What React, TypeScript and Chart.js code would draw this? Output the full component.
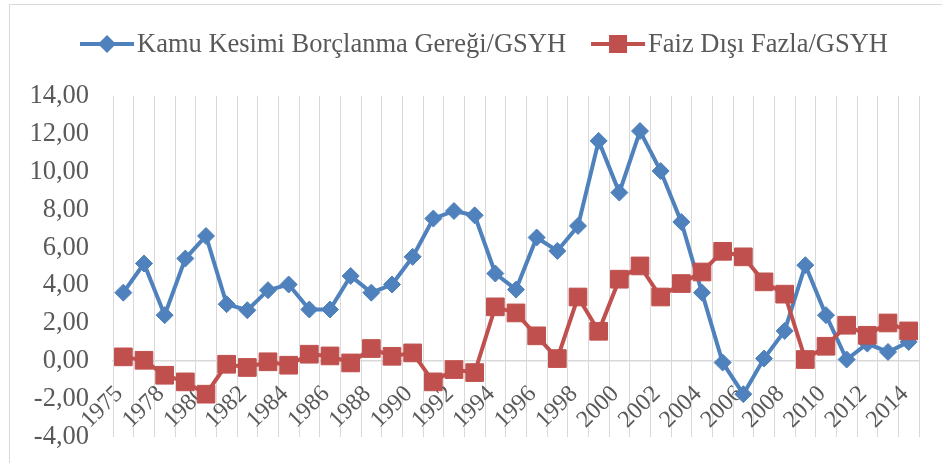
import { useEffect, useRef } from "react";
import { Chart, registerables } from "chart.js";

Chart.register(...registerables);

const years = [
  "1975", "1977", "1978", "1979", "1980", "1981", "1982", "1983", "1984", "1985",
  "1986", "1987", "1988", "1989", "1990", "1991", "1992", "1993", "1994", "1995",
  "1996", "1997", "1998", "1999", "2000", "2001", "2002", "2003", "2004", "2005",
  "2006", "2007", "2008", "2009", "2010", "2011", "2012", "2013", "2014",
];

const kamuKesimi = [
  3.62, 5.16, 2.43, 5.42, 6.61, 3.01, 2.69, 3.75, 4.05, 2.73,
  2.73, 4.5, 3.62, 4.05, 5.51, 7.53, 7.93, 7.7, 4.63, 3.78,
  6.53, 5.82, 7.14, 11.63, 8.9, 12.15, 10.04, 7.35, 3.62, -0.07,
  -1.74, 0.14, 1.6, 5.07, 2.43, 0.09, 0.93, 0.49, 1.02,
];

const faizDisi = [
  0.23, 0.05, -0.74, -1.09, -1.74, -0.16, -0.33, -0.03, -0.21, 0.37,
  0.28, -0.09, 0.67, 0.26, 0.44, -1.09, -0.44, -0.6, 2.87, 2.55,
  1.34, 0.14, 3.39, 1.58, 4.33, 5.03, 3.39, 4.1, 4.71, 5.8,
  5.51, 4.19, 3.54, 0.09, 0.79, 1.9, 1.37, 2.02, 1.6,
];

const seriesNames = ["Kamu Kesimi Borçlanma Gereği/GSYH", "Faiz Dışı Fazla/GSYH"];
const yMin = -4;
const yMax = 14;
const yStep = 2;

const BLUE = "#4f81bd";
const RED = "#c0504d";
const TEXT = "#595959";
const GRID = "#d9d9d9";
const FONT_FAMILY = '"Liberation Serif", "Times New Roman", serif';
const FONT_SIZE = 26.5;
const X_FONT_SIZE = 24;

const framePlugin = {
  id: "frame",
  beforeDraw(chart: any) {
    const ctx = chart.ctx;
    ctx.save();
    ctx.fillStyle = "#ffffff";
    ctx.fillRect(0, 0, chart.width, chart.height);
    ctx.strokeStyle = GRID;
    ctx.lineWidth = 1;
    ctx.strokeRect(9.5, 4.5, 2000, 2000);
    ctx.restore();
  },
};

// Category labels (every other year), rotated 45°, hanging below the zero line
const xLabelPlugin = {
  id: "xLabels",
  beforeDatasetsDraw(chart: any) {
    const ctx = chart.ctx;
    const xs = chart.scales.x;
    const ys = chart.scales.y;
    const axisY = ys.getPixelForValue(0);
    const a = Math.PI / 4;
    const c = Math.cos(a);
    const s = Math.sin(a);
    ctx.save();
    ctx.font = `${X_FONT_SIZE}px ${FONT_FAMILY}`;
    ctx.fillStyle = TEXT;
    ctx.textBaseline = "middle";
    ctx.textAlign = "left";
    years.forEach((lab, i) => {
      if (i % 2 !== 0) return;
      const ex = xs.getPixelForValue(i) - 4;
      const ey = axisY + 29;
      const w = ctx.measureText(lab).width;
      const sx = ex - w * c;
      const sy = ey + w * s;
      let acc = 0;
      for (const ch of lab) {
        const px = sx + acc * c;
        const py = sy - acc * s;
        ctx.save();
        ctx.translate(px, py);
        ctx.rotate(-a);
        ctx.fillText(ch, 0, 0);
        ctx.restore();
        acc += ctx.measureText(ch).width;
      }
    });
    ctx.restore();
  },
};

const legendPlugin = {
  id: "lineLegend",
  afterDraw(chart: any) {
    const ctx = chart.ctx;
    ctx.save();
    ctx.font = `${FONT_SIZE}px ${FONT_FAMILY}`;
    ctx.textBaseline = "middle";
    ctx.textAlign = "left";
    let x = 80;
    const y = 44;
    chart.data.datasets.forEach((ds: any) => {
      ctx.strokeStyle = ds.borderColor;
      ctx.lineWidth = 4;
      ctx.beginPath();
      ctx.moveTo(x, y);
      ctx.lineTo(x + 54, y);
      ctx.stroke();
      ctx.fillStyle = ds.borderColor;
      const cx = x + 27;
      ctx.beginPath();
      if (ds.pointStyle === "rectRot") {
        const r = 9;
        ctx.moveTo(cx, y - r);
        ctx.lineTo(cx + r, y);
        ctx.lineTo(cx, y + r);
        ctx.lineTo(cx - r, y);
        ctx.closePath();
      } else {
        const h = 9;
        ctx.rect(cx - h, y - h, 2 * h, 2 * h);
      }
      ctx.fill();
      ctx.fillStyle = TEXT;
      ctx.fillText(ds.label, x + 57, y + 1);
      x += 57 + ctx.measureText(ds.label).width + 25;
    });
    ctx.restore();
  },
};

const zeroPadding = (s: any) => {
  s.paddingTop = 0;
  s.paddingBottom = 0;
  s.paddingLeft = 0;
  s.paddingRight = 0;
};

export default function App() {
  const ref = useRef<HTMLCanvasElement | null>(null);

  useEffect(() => {
    if (!ref.current) return;
    const chart = new Chart(ref.current, {
      type: "line",
      data: {
        labels: years,
        datasets: [
          {
            label: seriesNames[0],
            data: kamuKesimi,
            borderColor: BLUE,
            backgroundColor: BLUE,
            borderWidth: 4,
            pointStyle: "rectRot",
            pointRadius: 8.5,
            pointBorderWidth: 1,
            pointBackgroundColor: BLUE,
            pointBorderColor: BLUE,
            tension: 0,
            order: 1,
            clip: false,
          } as any,
          {
            label: seriesNames[1],
            data: faizDisi,
            borderColor: RED,
            backgroundColor: RED,
            borderWidth: 4,
            pointStyle: "rect",
            pointRadius: 12.5,
            pointBorderWidth: 1,
            pointBackgroundColor: RED,
            pointBorderColor: RED,
            tension: 0,
            order: 0,
            clip: false,
          } as any,
        ],
      },
      options: {
        animation: false,
        responsive: false,
        devicePixelRatio: 1,
        layout: { padding: { left: 9, top: 96, right: 23, bottom: 26 } },
        plugins: {
          legend: { display: false },
          tooltip: { enabled: false },
        },
        scales: {
          x: {
            type: "category",
            position: { y: 0 } as any,
            offset: true,
            afterFit: zeroPadding,
            grid: {
              offset: true,
              color: GRID,
              lineWidth: 1,
              drawTicks: false,
            },
            border: { display: true, color: GRID, width: 1.5 },
            ticks: {
              display: false,
              autoSkip: false,
            },
          },
          y: {
            type: "linear",
            min: yMin,
            max: yMax,
            grid: { display: false, drawTicks: false },
            border: { display: false },
            afterFit: (s: any) => {
              s.width = 104;
              zeroPadding(s);
            },
            ticks: {
              stepSize: yStep,
              padding: 24,
              color: TEXT,
              font: { family: FONT_FAMILY, size: FONT_SIZE },
              callback: (v: any) => Number(v).toFixed(2).replace(".", ","),
            },
          },
        },
      },
      plugins: [framePlugin, xLabelPlugin, legendPlugin],
    });
    return () => chart.destroy();
  }, []);

  return (
    <div style={{ position: "fixed", left: 0, top: 0, width: 942, height: 463 }}>
      <canvas ref={ref} width={942} height={463} style={{ width: 942, height: 463 }} />
    </div>
  );
}
